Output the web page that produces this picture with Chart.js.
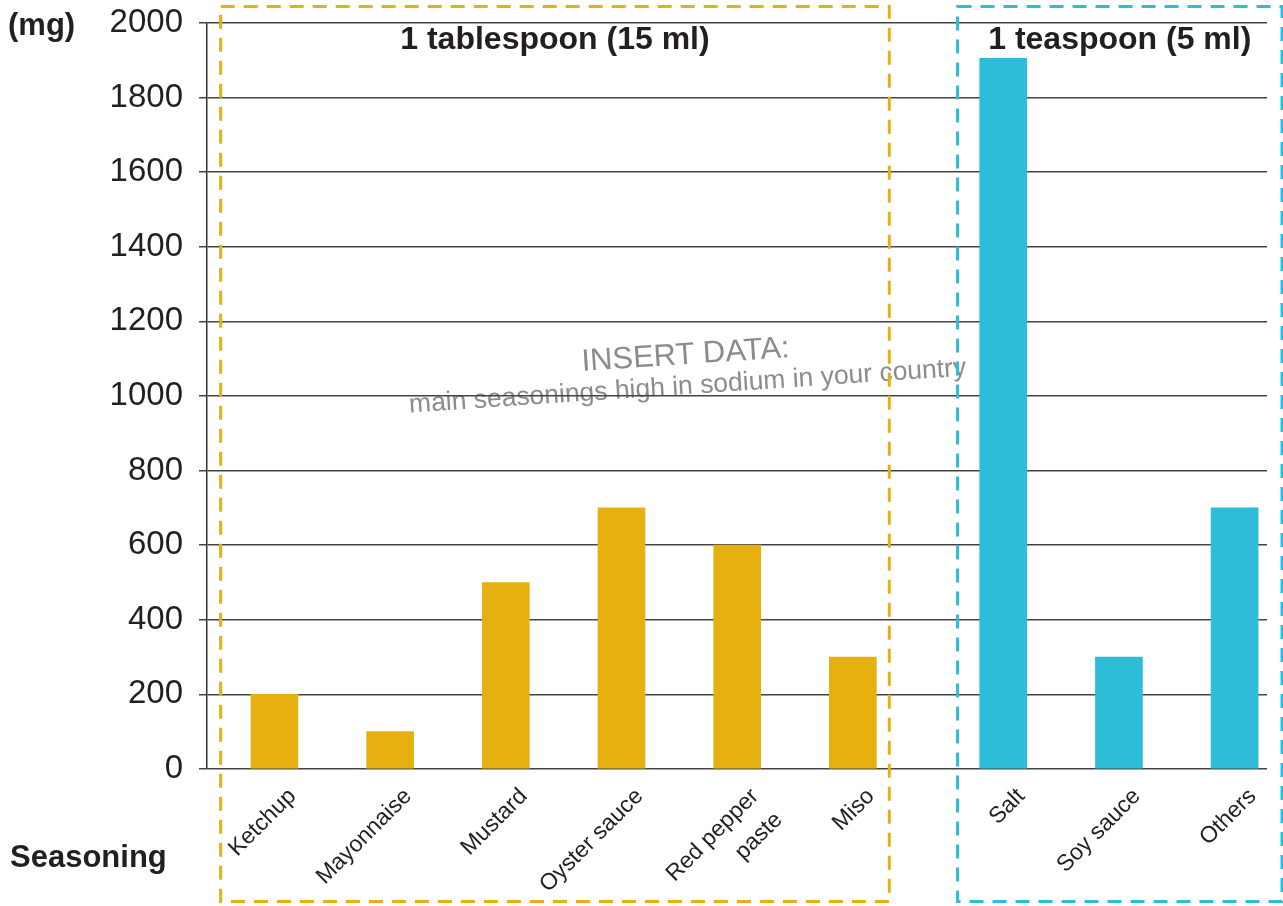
<!DOCTYPE html>
<html>
<head>
<meta charset="utf-8">
<title>Sodium in seasonings</title>
<script src="https://cdn.jsdelivr.net/npm/chart.js@4.4.1/dist/chart.umd.min.js"></script>
<style>
  html, body { margin: 0; padding: 0; background: #ffffff; }
  #wrap { position: relative; width: 1283px; height: 906px; }
</style>
</head>
<body>
<div id="wrap"><canvas id="chart"></canvas></div>
<script>
// Sodium content (mg) per serving of common seasonings
const categories = ['Ketchup', 'Mayonnaise', 'Mustard', 'Oyster sauce', 'Red pepper paste', 'Miso', 'Salt', 'Soy sauce', 'Others'];
const tickLabels = ['Ketchup', 'Mayonnaise', 'Mustard', 'Oyster sauce', ['Red pepper', 'paste'], 'Miso', 'Salt', 'Soy sauce', 'Others'];
const sodiumMg = [200, 100, 500, 700, 600, 300, 1905, 300, 700];
const servingGroup = [0, 0, 0, 0, 0, 0, 1, 1, 1];
const groupTitles = ['1 tablespoon (15 ml)', '1 teaspoon (5 ml)'];
const groupColors = ['#E6B011', '#2DBDD9'];
const yTickValues = [0, 200, 400, 600, 800, 1000, 1200, 1400, 1600, 1800, 2000];

const FONT = "'Liberation Sans', Arial, Helvetica, sans-serif";
const GROUP_GAP = 0.3;           // extra space between the two serving groups
const TEXT_DARK = '#231f20';
// how far each group frame reaches past its outer bars, in bar slots
const FRAME_PAD_LEFT = [0.465, 0.395];
const FRAME_PAD_RIGHT = [0.315, 0.41];

// x position of each bar: its index plus a gap after each group change
const xPositions = categories.map((_, i) => i + servingGroup[i] * GROUP_GAP);
const points = categories.map((_, i) => ({ x: xPositions[i], y: sodiumMg[i] }));

const decorations = {
  id: 'decorations',
  beforeDraw(chart) {
    const { ctx } = chart;
    // placeholder note across the plot
    ctx.save();
    ctx.translate(687, 377);
    ctx.rotate(-3.8 * Math.PI / 180);
    ctx.fillStyle = '#8c8c8c';
    ctx.textAlign = 'center';
    ctx.textBaseline = 'alphabetic';
    ctx.font = '31px ' + FONT;
    ctx.fillText('INSERT DATA:', 0, -13);
    ctx.font = '26.5px ' + FONT;
    ctx.fillText('main seasonings high in sodium in your country', 0, 17);
    ctx.restore();
  },
  afterDraw(chart) {
    const { ctx } = chart;
    const xs = chart.scales.x;
    const unit = xs.getPixelForValue(1) - xs.getPixelForValue(0);
    // dashed frame around each serving group, with its title
    groupTitles.forEach((title, g) => {
      const members = xPositions.filter((_, i) => servingGroup[i] === g);
      const left = xs.getPixelForValue(members[0]) - FRAME_PAD_LEFT[g] * unit;
      const right = xs.getPixelForValue(members[members.length - 1]) + FRAME_PAD_RIGHT[g] * unit;
      const top = 6.5, bottom = 901.5;
      ctx.save();
      ctx.strokeStyle = groupColors[g];
      ctx.lineWidth = 3;
      ctx.setLineDash([14, 9]);
      ctx.strokeRect(left, top, right - left, bottom - top);
      ctx.setLineDash([]);
      ctx.fillStyle = TEXT_DARK;
      ctx.font = 'bold 32px ' + FONT;
      ctx.textAlign = 'center';
      ctx.textBaseline = 'alphabetic';
      ctx.fillText(title, (left + right) / 2, 49);
      ctx.restore();
    });
    // axis captions
    ctx.save();
    ctx.fillStyle = TEXT_DARK;
    ctx.font = 'bold 31px ' + FONT;
    ctx.textAlign = 'left';
    ctx.textBaseline = 'alphabetic';
    ctx.fillText('(mg)', 8, 35);
    ctx.fillText('Seasoning', 10, 867);
    ctx.restore();
  }
};

new Chart(document.getElementById('chart'), {
  type: 'bar',
  data: {
    datasets: [{
      label: 'Sodium (mg)',
      data: points,
      backgroundColor: servingGroup.map(g => groupColors[g]),
      barThickness: 47,
      borderWidth: 0
    }]
  },
  options: {
    responsive: true,
    maintainAspectRatio: false,
    animation: false,
    layout: { padding: { top: 23, right: 16, left: 0, bottom: 0 } },
    plugins: {
      legend: { display: false },
      tooltip: { enabled: false }
    },
    scales: {
      x: {
        type: 'linear',
        offset: false,
        min: xPositions[0] - 0.583,
        max: xPositions[xPositions.length - 1] + 0.28,
        grid: { display: false },
        border: { display: false },
        afterBuildTicks(scale) {
          scale.ticks = xPositions.map(v => ({ value: v }));
        },
        afterFit(scale) { scale.height = 137; },
        ticks: {
          autoSkip: false,
          minRotation: 45,
          maxRotation: 45,
          labelOffset: 18,
          padding: 4,
          color: TEXT_DARK,
          font: { family: FONT, size: 23, lineHeight: 1.45 },
          callback(value, index) { return tickLabels[index]; }
        }
      },
      y: {
        min: 0,
        max: 2000,
        afterBuildTicks(scale) {
          scale.ticks = yTickValues.map(v => ({ value: v }));
        },
        afterFit(scale) {
          scale.width = 207;
          scale.paddingTop = 0;
        },
        grid: {
          color: '#444444',
          lineWidth: 1.5,
          drawTicks: true,
          tickLength: 8
        },
        border: { display: true, color: '#333333', width: 1.5 },
        ticks: {
          padding: 16,
          color: TEXT_DARK,
          font: { family: FONT, size: 33 },
          callback(value) { return String(value); }
        }
      }
    }
  },
  plugins: [decorations]
});
</script>
</body>
</html>
